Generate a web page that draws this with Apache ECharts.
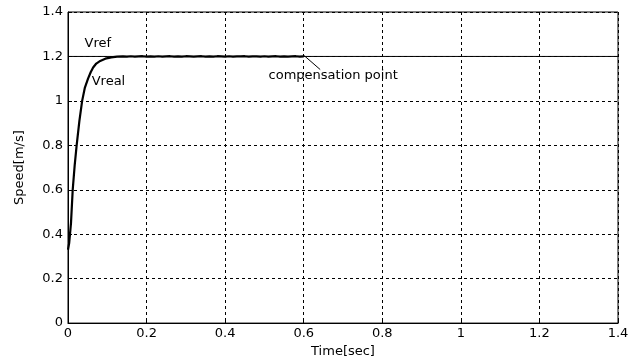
<!DOCTYPE html>
<html>
<head>
<meta charset="utf-8">
<script src="https://cdn.jsdelivr.net/npm/echarts@6/dist/echarts.min.js"></script>
<style>
html, body { margin: 0; padding: 0; background: #fff; }
#myChart { width: 640px; height: 363px; }
</style>
</head>
<body>
<div id="myChart"></div>
<script>
var myChart_1 = echarts.init(document.getElementById('myChart'));

// time axis [sec] and measured speed [m/s]
var timeVals = [0, 0.003, 0.0076, 0.012, 0.017, 0.022, 0.029, 0.036, 0.043, 0.051, 0.058, 0.064, 0.072, 0.082, 0.095, 0.11, 0.125,
    0.14, 0.15, 0.16, 0.17, 0.18, 0.19, 0.2, 0.21, 0.22, 0.23, 0.24, 0.25, 0.26, 0.27, 0.28, 0.29, 0.3,
    0.31, 0.32, 0.33, 0.34, 0.35, 0.36, 0.37, 0.38, 0.39, 0.4, 0.41, 0.42, 0.43, 0.44, 0.45, 0.46, 0.47,
    0.48, 0.49, 0.5, 0.51, 0.52, 0.53, 0.54, 0.55, 0.56, 0.57, 0.58, 0.59, 0.6];
var vreal = [0.33, 0.36, 0.45, 0.6, 0.71, 0.8, 0.91, 1.0, 1.06, 1.1, 1.13, 1.15, 1.168, 1.18, 1.19, 1.196, 1.199,
    1.2, 1.199, 1.201, 1.199, 1.2, 1.201, 1.199, 1.2, 1.199, 1.201, 1.199, 1.2, 1.201, 1.199, 1.2, 1.199, 1.201,
    1.2, 1.199, 1.2, 1.201, 1.199, 1.2, 1.199, 1.201, 1.2, 1.199, 1.201, 1.199, 1.2, 1.2, 1.201, 1.199, 1.2,
    1.2, 1.199, 1.201, 1.199, 1.2, 1.201, 1.199, 1.2, 1.199, 1.2, 1.201, 1.199, 1.2];
var vrefVal = 1.2;
var xTicks = [0, 0.2, 0.4, 0.6, 0.8, 1, 1.2, 1.4];
var yTicks = [0, 0.2, 0.4, 0.6, 0.8, 1, 1.2, 1.4];

var realData = [];
for (var i = 0; i < timeVals.length; i++) {
    realData.push([timeVals[i], vreal[i]]);
}
var refData = [[xTicks[0], vrefVal], [xTicks[xTicks.length - 1], vrefVal]];

var fontFam = '"DejaVu Sans", Arial, sans-serif';
var gridLine = { show: true, lineStyle: { color: '#000', type: [3, 3], width: 1 } };
var txt = { show: true, position: 'inside', color: '#000', fontSize: 13, fontFamily: fontFam };

var option = {
    animation: false,
    backgroundColor: '#fff',
    grid: { left: 68, right: 22, top: 12, bottom: 38, show: true, borderColor: '#000', borderWidth: 1 },
    xAxis: {
        type: 'value', min: 0, max: 1.4, interval: 0.2,
        name: 'Time[sec]', nameLocation: 'middle', nameGap: 20,
        nameTextStyle: { color: '#000', fontSize: 13, fontFamily: fontFam },
        axisLine: { show: true, lineStyle: { color: '#000', width: 1 } },
        axisTick: { show: true, inside: true, length: 4, lineStyle: { color: '#000' } },
        splitLine: gridLine,
        axisLabel: { color: '#000', fontSize: 13, fontFamily: fontFam, margin: 4,
            formatter: function (v) { return String(Math.round(v * 10) / 10); } }
    },
    yAxis: {
        type: 'value', min: 0, max: 1.4, interval: 0.2,
        name: 'Speed[m/s]', nameLocation: 'middle', nameGap: 42,
        nameTextStyle: { color: '#000', fontSize: 13, fontFamily: fontFam },
        axisLine: { show: true, lineStyle: { color: '#000', width: 1 } },
        axisTick: { show: true, inside: true, length: 4, lineStyle: { color: '#000' } },
        splitLine: gridLine,
        axisLabel: { color: '#000', fontSize: 13, fontFamily: fontFam, margin: 5,
            formatter: function (v) { return String(Math.round(v * 10) / 10); } }
    },
    series: [
        {
            name: 'Vref', type: 'line', data: refData, symbol: 'none',
            lineStyle: { color: '#000', width: 1 },
            markPoint: {
                symbol: 'circle', symbolSize: 1, silent: true,
                itemStyle: { color: 'rgba(0,0,0,0)' },
                label: txt,
                data: [
                    { coord: [0.076, 1.257], label: { formatter: 'Vref' } },
                    { coord: [0.103, 1.087], label: { formatter: 'Vreal' } },
                    { coord: [0.675, 1.114], label: { formatter: 'compensation point' } }
                ]
            },
            markLine: {
                symbol: 'none', silent: true,
                label: { show: false },
                lineStyle: { color: '#000', width: 1, type: 'solid' },
                data: [[{ coord: [0.601, 1.204] }, { coord: [0.642, 1.141] }]]
            }
        },
        {
            name: 'Vreal', type: 'line', data: realData, symbol: 'none',
            lineStyle: { color: '#000', width: 2.2 }
        }
    ]
};
myChart_1.setOption(option);
</script>
</body>
</html>
